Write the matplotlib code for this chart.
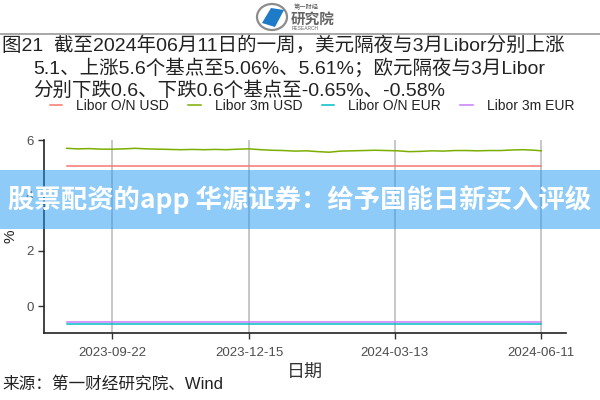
import numpy as np
import pandas as pd
import matplotlib
matplotlib.use("Agg")
import matplotlib.pyplot as plt
import matplotlib.dates as mdates
from matplotlib.patches import Polygon, Ellipse, Rectangle

plt.rcParams["font.family"] = ["Liberation Sans", "Noto Sans CJK SC", "DejaVu Sans"]

# data (weekly, plus last day)
dates = list(pd.date_range("2023-08-25", "2024-06-07", freq="7D")) + [pd.Timestamp("2024-06-11")]
usd_3m = [5.70, 5.68, 5.69, 5.67, 5.67, 5.68, 5.70, 5.68, 5.67, 5.66,
          5.65, 5.66, 5.65, 5.66, 5.65, 5.67, 5.68, 5.65, 5.63, 5.62,
          5.60, 5.61, 5.58, 5.56, 5.60, 5.61, 5.62, 5.63, 5.62, 5.61,
          5.58, 5.59, 5.61, 5.60, 5.62, 5.62, 5.61, 5.62, 5.62, 5.64,
          5.65, 5.63, 5.61]
usd_on = [5.06] * len(dates)
eur_on = [-0.65] * len(dates)
eur_3m = [-0.58] * len(dates)

series_names = ["Libor O/N USD", "Libor 3m USD", "Libor O/N EUR", "Libor 3m EUR"]
series_vals = [usd_on, usd_3m, eur_on, eur_3m]
colors = ["#F8766D", "#7CAE00", "#00BFC4", "#C77CFF"]
tick_dates = ["2023-09-22", "2023-12-15", "2024-03-13", "2024-06-11"]

fig = plt.figure(figsize=(6, 4), dpi=100)
ax = fig.add_axes([0.073, 1 - 333 / 400, 0.87, (333 - 140) / 400])

handles = []
for name, vals, col in zip(series_names, series_vals, colors):
    (h,) = ax.plot(dates, vals, color=col, lw=1.1, label=name)
    handles.append(h)

ax.set_xlim(pd.Timestamp("2023-08-11"), pd.Timestamp("2024-06-26"))
ax.set_ylim(-0.96, 6.0)
ax.set_yticks([0, 2, 4, 6])
ax.set_xticks([pd.Timestamp(d) for d in tick_dates])
ax.xaxis.set_major_formatter(mdates.DateFormatter("%Y-%m-%d"))
ax.grid(axis="x", color="#BEBEBE", lw=1.2)
ax.set_axisbelow(True)
for s in ["top", "right"]:
    ax.spines[s].set_visible(False)
for s in ["left", "bottom"]:
    ax.spines[s].set_linewidth(1.2)
    ax.spines[s].set_color("#222222")
ax.tick_params(axis="both", length=4, width=1.0, colors="#333333",
               labelcolor="#4D4D4D", labelsize=9.5)
ax.tick_params(axis="x", pad=6)
ax.set_xlabel("日期", fontsize=13, color="#333333", labelpad=4)
ax.set_ylabel("%", fontsize=11, color="#222222", labelpad=6)

fig.legend(handles=handles, loc="center", bbox_to_anchor=(0.52, 1 - 106 / 400),
           ncol=4, frameon=False, fontsize=10, handlelength=0.9,
           columnspacing=1.4, handletextpad=1.0, labelcolor="#222222")

# title
fig.text(0.004, 1 - 46 / 400, "图21  截至2024年06月11日的一周，美元隔夜与3月Libor分别上涨",
         fontsize=14, va="center", ha="left", color="#222222")
fig.text(0.056, 1 - 68.5 / 400, "5.1、上涨5.6个基点至5.06%、5.61%；欧元隔夜与3月Libor",
         fontsize=14, va="center", ha="left", color="#222222")
fig.text(0.056, 1 - 91 / 400, "分别下跌0.6、下跌0.6个基点至-0.65%、-0.58%",
         fontsize=14, va="center", ha="left", color="#222222")

# source
fig.text(0.004, 1 - 384 / 400, "来源：第一财经研究院、Wind", fontsize=12,
         va="center", ha="left", color="#222222")

# header line and logo
fig.add_artist(plt.Line2D([0, 1], [1 - 34 / 400, 1 - 34 / 400], color="#9A9A9A", lw=1.2))
fig.add_artist(Ellipse((272 / 600, 1 - 17 / 400), 30 / 600, 26 / 400,
                       transform=fig.transFigure, facecolor="white",
                       edgecolor="#8C8C8C", lw=1.6))
fig.add_artist(Polygon([[262 / 600, 1 - 23 / 400], [271 / 600, 1 - 8 / 400],
                        [284 / 600, 1 - 10 / 400], [275 / 600, 1 - 27 / 400]],
                       closed=True, transform=fig.transFigure, facecolor="#1E7BC8"))
fig.text(294 / 600, 1 - 7 / 400, "第一财经", fontsize=4.5, color="#555555",
         va="center", ha="left", family=["Noto Sans CJK SC"])
fig.text(291 / 600, 1 - 19 / 400, "研究院", fontsize=10.5, color="#666666",
         va="center", ha="left", weight="bold", family=["Noto Sans CJK SC"])
fig.text(292 / 600, 1 - 29 / 400, "RESEARCH", fontsize=3.5, color="#666666",
         va="center", ha="left")

# watermark banner
fig.add_artist(Rectangle((0, 1 - 229 / 400), 1, 59 / 400, transform=fig.transFigure,
                         facecolor=(0.13, 0.6, 0.96), alpha=0.5, edgecolor="none"))
fig.text(0.5, 1 - 200 / 400, "股票配资的app 华源证券：给予国能日新买入评级",
         fontsize=19, weight="bold", color="white", ha="center", va="center",
         family=["Noto Sans CJK SC"])

fig.savefig("out.png", dpi=100)
